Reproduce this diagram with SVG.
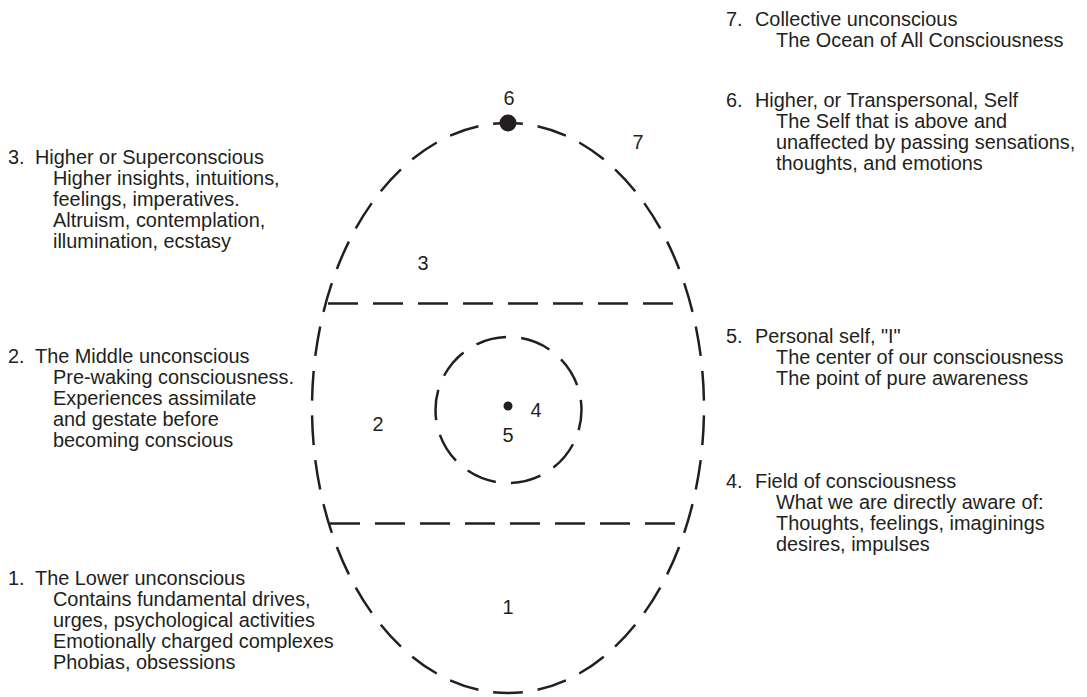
<svg xmlns="http://www.w3.org/2000/svg" width="1087" height="697" viewBox="0 0 1087 697">
<style>
text{font-family:"Liberation Sans",Arial,Helvetica,sans-serif;font-size:19.9px;fill:#231f20}
.n{text-anchor:middle}
.d{fill:none;stroke:#231f20;stroke-width:2.5;stroke-dasharray:30 15}
</style>
<rect width="1087" height="697" fill="#fff"/>
<g id="connectors">
<path id="egg" class="d" pathLength="1530" stroke-dashoffset="15" d="M508 123 A196 285 0 1 1 508 693 A196 285 0 1 1 508 123 Z"/>
<line id="upper-divider" class="d" x1="328" y1="303.5" x2="675" y2="303.5"/>
<line id="lower-divider" class="d" x1="330" y1="523.5" x2="677" y2="523.5"/>
<circle id="field" class="d" cx="508.5" cy="410" r="73" pathLength="450" stroke-dashoffset="10"/>
</g>
<g id="n6"><circle cx="508" cy="123" r="8.5" fill="#231f20"/><text class="n" x="509" y="105">6</text></g>
<g id="n7"><text class="n" x="638" y="149">7</text></g>
<g id="n3"><text class="n" x="423" y="270">3</text></g>
<g id="n2"><text class="n" x="378" y="431">2</text></g>
<g id="n5"><circle cx="508" cy="406" r="4.5" fill="#231f20"/><text class="n" x="508" y="442">5</text></g>
<g id="n4"><text class="n" x="536" y="417">4</text></g>
<g id="n1"><text class="n" x="508" y="614">1</text></g>

<g id="legend3">
<text x="8" y="164">3.<tspan x="35">Higher or Superconscious</tspan></text>
<text x="53" y="185">Higher insights, intuitions,</text>
<text x="53" y="206">feelings, imperatives.</text>
<text x="53" y="227">Altruism, contemplation,</text>
<text x="53" y="248">illumination, ecstasy</text>
</g>
<g id="legend2">
<text x="8" y="363">2.<tspan x="35">The Middle unconscious</tspan></text>
<text x="53" y="384">Pre-waking consciousness.</text>
<text x="53" y="405">Experiences assimilate</text>
<text x="53" y="426">and gestate before</text>
<text x="53" y="447">becoming conscious</text>
</g>
<g id="legend1">
<text x="8" y="585">1.<tspan x="35">The Lower unconscious</tspan></text>
<text x="53" y="606">Contains fundamental drives,</text>
<text x="53" y="627">urges, psychological activities</text>
<text x="53" y="648">Emotionally charged complexes</text>
<text x="53" y="669">Phobias, obsessions</text>
</g>
<g id="legend7">
<text x="726" y="26">7.<tspan x="755">Collective unconscious</tspan></text>
<text x="776" y="47">The Ocean of All Consciousness</text>
</g>
<g id="legend6">
<text x="726" y="107">6.<tspan x="755">Higher, or Transpersonal, Self</tspan></text>
<text x="776" y="128">The Self that is above and</text>
<text x="776" y="149">unaffected by passing sensations,</text>
<text x="776" y="170">thoughts, and emotions</text>
</g>
<g id="legend5">
<text x="726" y="343">5.<tspan x="755">Personal self, "I"</tspan></text>
<text x="776" y="364">The center of our consciousness</text>
<text x="776" y="385">The point of pure awareness</text>
</g>
<g id="legend4">
<text x="726" y="488">4.<tspan x="755">Field of consciousness</tspan></text>
<text x="776" y="509">What we are directly aware of:</text>
<text x="776" y="530">Thoughts, feelings, imaginings</text>
<text x="776" y="551">desires, impulses</text>
</g>
</svg>
